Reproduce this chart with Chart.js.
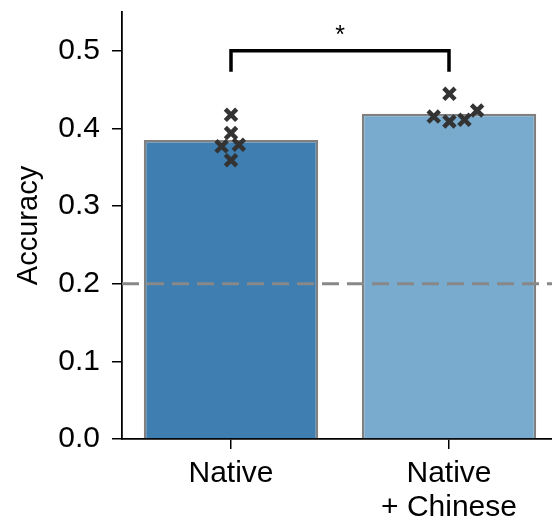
<!DOCTYPE html>
<html>
<head>
<meta charset="utf-8">
<script src="https://cdn.jsdelivr.net/npm/chart.js@4"></script>
<style>
  html, body { margin: 0; padding: 0; background: #fff; }
</style>
</head>
<body>
<canvas id="myChart" width="552" height="525"></canvas>
<script>
// data
const categories = [["Native"], ["Native", "+ Chinese"]];
const meanAccuracy = [0.385, 0.419];
const nativeJitter = [0.0, 0.0, -0.043, 0.036, 0.0];
const nativeScores = [0.4175, 0.394, 0.377, 0.379, 0.359];
const chineseJitter = [0.002, -0.07, 0.002, 0.071, 0.129];
const chineseScores = [0.4446, 0.4153, 0.4089, 0.4111, 0.4231];
const chanceLevel = 0.2;
const yTicks = [0, 0.1, 0.2, 0.3, 0.4, 0.5];
const bracketTop = 0.5;
const bracketFoot = 0.473;
const significance = "*";

const font = "'Liberation Sans', Arial, sans-serif";
Chart.defaults.font.family = font;
Chart.defaults.color = '#000';

const toPoints = (cat, jitter, scores) => scores.map((v, i) => ({ x: cat + jitter[i], y: v }));

const sigPlugin = {
  id: 'sig',
  afterDatasetsDraw(chart) {
    const { ctx, scales: { x, y } } = chart;
    ctx.save();
    ctx.font = "25px " + font;
    ctx.fillStyle = '#000';
    ctx.textAlign = 'center';
    ctx.textBaseline = 'alphabetic';
    ctx.fillText(significance, x.getPixelForValue(0.5), y.getPixelForValue(0.51));
    ctx.restore();
  }
};

const pointStyle = {
  pointStyle: 'crossRot',
  pointRadius: 8,
  pointHoverRadius: 8,
  borderWidth: 4.5,
  borderColor: '#333',
  backgroundColor: '#333'
};

const data = {
  datasets: [
    {
      type: 'bar',
      data: meanAccuracy.map((v, i) => ({ x: i, y: v })),
      backgroundColor: ['#3e7eb1', '#78abcd'],
      borderColor: '#808080',
      borderWidth: 2.5,
      categoryPercentage: 0.8,
      barPercentage: 1,
      order: 4
    },
    {
      type: 'line',
      data: [{ x: -0.5, y: chanceLevel }, { x: 1.5, y: chanceLevel }],
      borderColor: '#888',
      borderWidth: 3,
      borderDash: [17, 8],
      pointRadius: 0,
      order: 3
    },
    {
      type: 'line',
      data: [
        { x: 0, y: bracketFoot }, { x: 0, y: bracketTop },
        { x: 1, y: bracketTop }, { x: 1, y: bracketFoot }
      ],
      borderColor: '#000',
      borderWidth: 3.5,
      pointRadius: 0,
      order: 2
    },
    Object.assign({ type: 'scatter', data: toPoints(0, nativeJitter, nativeScores), order: 1 }, pointStyle),
    Object.assign({ type: 'scatter', data: toPoints(1, chineseJitter, chineseScores), order: 0 }, pointStyle)
  ]
};

const config = {
  type: 'bar',
  data: data,
  plugins: [sigPlugin],
  options: {
    responsive: false,
    animation: false,
    devicePixelRatio: 1,
    layout: { autoPadding: false, padding: { top: 12, right: 0, bottom: 0, left: 0 } },
    plugins: {
      legend: { display: false },
      tooltip: { enabled: false }
    },
    scales: {
      x: {
        type: 'linear',
        min: -0.5,
        max: 1.4725,
        offset: false,
        grid: { offset: false, drawOnChartArea: false, drawTicks: true, tickLength: 10, color: '#000', lineWidth: 1.5 },
        border: { display: true, color: '#000', width: 1.8 },
        ticks: {
          padding: 7,
          maxRotation: 0,
          autoSkip: false,
          font: { size: 30, lineHeight: 1.15 },
          callback: v => categories[Math.round(v)]
        },
        afterBuildTicks: s => { s.ticks = categories.map((c, i) => ({ value: i })); },
        afterFit: s => { s.height = 86; s.paddingLeft = 0; s.paddingRight = 0; }
      },
      y: {
        min: 0,
        max: 0.55,
        grid: { drawOnChartArea: false, drawTicks: true, tickLength: 10, color: '#000', lineWidth: 1.5 },
        border: { display: true, color: '#000', width: 1.8 },
        ticks: {
          padding: 12,
          font: { size: 30 },
          callback: v => Number(v).toFixed(1)
        },
        title: {
          display: true,
          text: 'Accuracy',
          font: { size: 29 },
          padding: { top: 12, bottom: 0 }
        },
        afterBuildTicks: s => { s.ticks = yTicks.map(v => ({ value: v })); },
        afterFit: s => { s.width = 122; s.paddingTop = 0; s.paddingBottom = 0; }
      }
    }
  }
};

const myChart = new Chart(document.getElementById('myChart'), config);
</script>
</body>
</html>
